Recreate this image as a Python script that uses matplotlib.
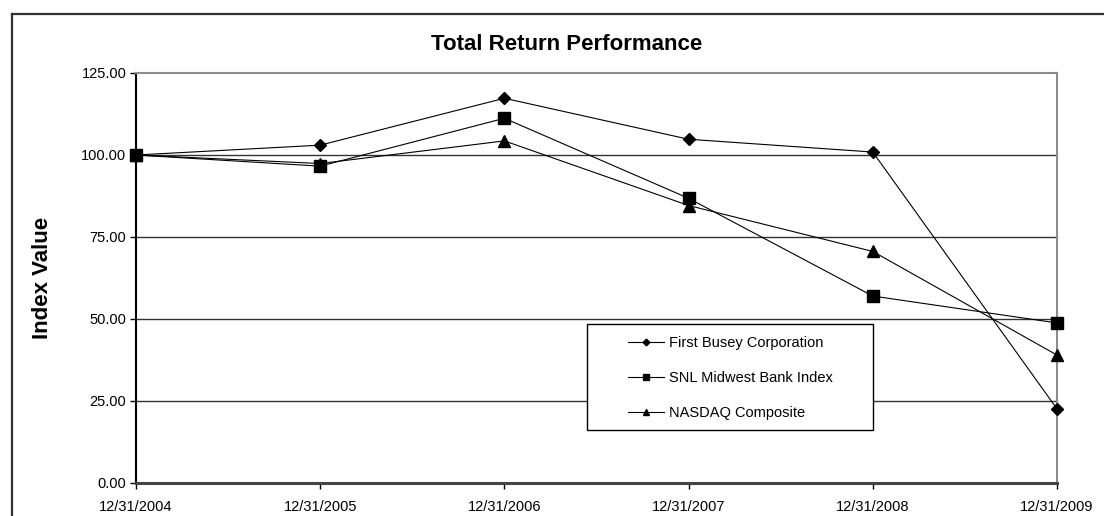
import matplotlib
matplotlib.use('Agg')
import matplotlib.pyplot as plt
from matplotlib.lines import Line2D
from matplotlib.patches import Rectangle

plt.rcParams['font.family'] = ['Liberation Sans', 'DejaVu Sans']

dates = ['12/31/2004', '12/31/2005', '12/31/2006', '12/31/2007', '12/31/2008', '12/31/2009']
busey = [100.00, 103.0, 117.3, 104.8, 100.9, 22.6]
snl = [100.00, 96.6, 111.2, 86.8, 57.0, 48.8]
nasdaq = [100.00, 97.4, 104.3, 84.6, 70.6, 39.0]
yticks = [0, 25, 50, 75, 100, 125]

W, H = 1104, 516
fig = plt.figure(figsize=(W / 100, H / 100), dpi=100)
ax = fig.add_axes([136 / W, 1 - 483 / H, (1057 - 136) / W, (483 - 73) / H])

x = list(range(len(dates)))
for yv in yticks[1:-1]:
    ax.axhline(yv, color='#333333', lw=1.0, zorder=1)

ax.plot(x, busey, color='black', lw=0.8, marker='D', ms=6.2, label='First Busey Corporation', zorder=3)
ax.plot(x, snl, color='black', lw=0.8, marker='s', ms=9, label='SNL Midwest Bank Index', zorder=3)
ax.plot(x, nasdaq, color='black', lw=0.8, marker='^', ms=9, label='NASDAQ Composite', zorder=3)
for ln in ax.lines:
    ln.set_clip_on(False)

ax.set_xlim(0, len(dates) - 1)
ax.set_ylim(0, 125)
ax.set_xticks(x)
ax.set_xticklabels(dates)
ax.set_yticks(yticks)
ax.set_yticklabels([f'{v:.2f}' for v in yticks])
ax.tick_params(axis='both', direction='out', length=4, width=1, labelsize=10.5, color='black')
ax.tick_params(axis='y', pad=3)
ax.tick_params(axis='x', pad=8)

for s in ['top', 'right']:
    ax.spines[s].set_color('#8c8c8c')
    ax.spines[s].set_linewidth(1.5)
ax.spines['left'].set_color('black')
ax.spines['left'].set_linewidth(1.5)
ax.spines['bottom'].set_color('#444444')
ax.spines['bottom'].set_linewidth(2.2)

# legend box drawn as a plain rectangle, entries placed inside
fig.patches.append(Rectangle((587 / W, 1 - 430 / H), (873 - 587) / W, (430 - 324) / H,
                             transform=fig.transFigure, fill=True, facecolor='white',
                             edgecolor='black', lw=1.0, zorder=5))
leg = fig.legend(loc='upper left', bbox_to_anchor=(628 / W, 1 - 336 / H), frameon=False,
                 fontsize=10.5, markerscale=0.55, handlelength=2.5, handletextpad=0.3,
                 labelspacing=1.45, borderpad=0, borderaxespad=0)
leg.set_zorder(6)

fig.text(567 / W, 1 - 45 / H, 'Total Return Performance', ha='center', va='center',
         fontsize=16, fontweight='bold')
fig.text(42 / W, 1 - 278 / H, 'Index Value', ha='center', va='center', rotation=90,
         fontsize=16, fontweight='bold')

# outer chart frame
fig.add_artist(Line2D([12 / W, 1], [1 - 14 / H, 1 - 14 / H], transform=fig.transFigure,
                      color='#333333', lw=1.6))
fig.add_artist(Line2D([12 / W, 12 / W], [0, 1 - 14 / H], transform=fig.transFigure,
                      color='#333333', lw=1.6))

fig.savefig('out.png', dpi=100, facecolor='white')
